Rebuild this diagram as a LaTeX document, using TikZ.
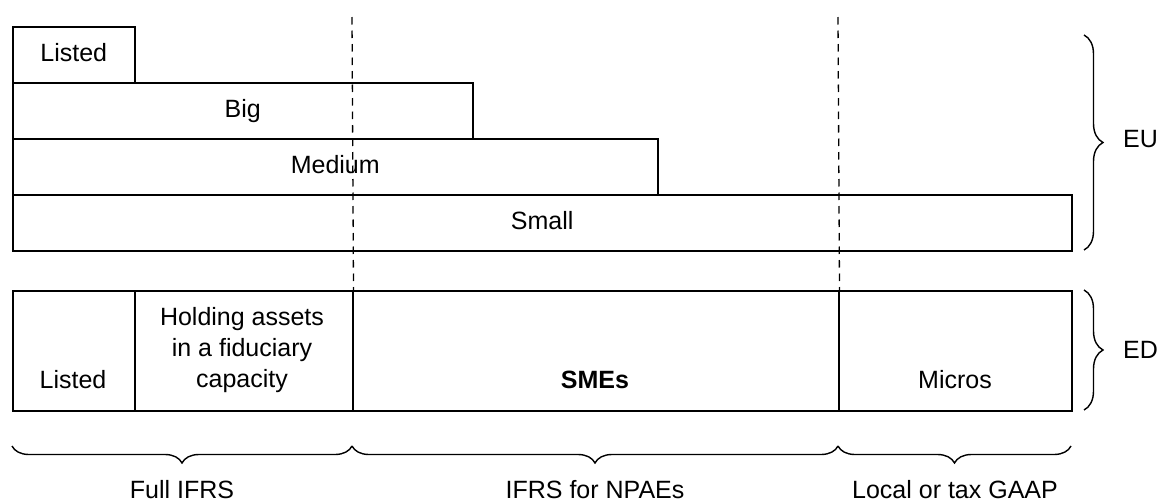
\documentclass[tikz,border=0pt]{standalone}
\usepackage{fontspec}
\setmainfont{Liberation Sans}
\usetikzlibrary{positioning,decorations.pathreplacing}

\tikzset{
    box/.style={draw, line width=1.5pt, inner sep=0pt, anchor=north west,
        text height=18pt, text depth=5pt},
    lbl/.style={inner sep=0pt, anchor=base, align=center},
    divide/.style={line width=1.3pt, dash pattern=on 7.5pt off 6pt},
    bracket/.style={decorate, line width=1.4pt, decoration={brace, amplitude=17pt}}
}

\begin{document}
\begin{tikzpicture}[x=1pt, y=-1pt, font=\fontsize{25}{31}\selectfont]

    %% Scope of the standards: EU directive vs. exposure draft

    \useasboundingbox (0,0) rectangle (1160,501);

    \begin{scope}
        % EU size classes
        \node[box, minimum width=122pt, minimum height=56pt] (euListed) at (12,26) {Listed};
        \node[box, minimum width=460pt, minimum height=56pt] (euBig) at (12,82) {Big};
        \node[box, minimum width=645pt, minimum height=56pt] (euMedium) at (12,138) {Medium};
        \node[box, minimum width=1059pt, minimum height=56pt] (euSmall) at (12,194) {Small};
    \end{scope}

    \begin{scope}
        % ED categories
        \node[box, minimum width=122pt, minimum height=120pt] (edListed) at (12,290) {};
        \node[box, minimum width=218pt, minimum height=120pt] (edHolding) at (134,290) {};
        \node[box, minimum width=486pt, minimum height=120pt] (edSme) at (352,290) {};
        \node[box, minimum width=233pt, minimum height=120pt] (edMicro) at (838,290) {};

        \node[lbl] (lListed) at (73,388) {Listed};
        \node[lbl, anchor=north] (lHolding) at (242,307) {Holding assets\\in a fiduciary\\capacity};
        \node[lbl] (lSme) at (595,388) {\bfseries SMEs};
        \node[lbl] (lMicro) at (955,388) {Micros};
    \end{scope}

    % Dividing lines
    \coordinate (topA) at (352,17);
    \coordinate (topB) at (838,17);
    \draw[divide] (topA) -- (edHolding.north east);
    \draw[divide] (topB) -- (edSme.north east);

    % Right braces
    \coordinate (euTop) at (1084,35);
    \coordinate (euBot) at (1084,250);
    \coordinate (edTop) at (1084,290);
    \coordinate (edBot) at (1084,410);
    \draw[bracket, decoration={amplitude=19pt}] (euTop) -- (euBot);
    \draw[bracket, decoration={amplitude=19pt}] (edTop) -- (edBot);
    \node[anchor=west, inner sep=0pt] (eu) at (1123,139) {EU};
    \node[anchor=west, inner sep=0pt] (ed) at (1123,350) {ED};

    % Bottom braces
    \coordinate (bA) at (12,446);
    \coordinate (bB) at (352,446);
    \coordinate (bC) at (838,446);
    \coordinate (bD) at (1071,446);
    \draw[bracket, decoration={mirror}] (bA) -- (bB);
    \draw[bracket, decoration={mirror}] (bB) -- (bC);
    \draw[bracket, decoration={mirror}] (bC) -- (bD);
    \node[lbl] (full) at (182,498) {Full IFRS};
    \node[lbl] (npae) at (595,498) {IFRS for NPAEs};
    \node[lbl] (gaap) at (955,498) {Local or tax GAAP};

\end{tikzpicture}
\end{document}
